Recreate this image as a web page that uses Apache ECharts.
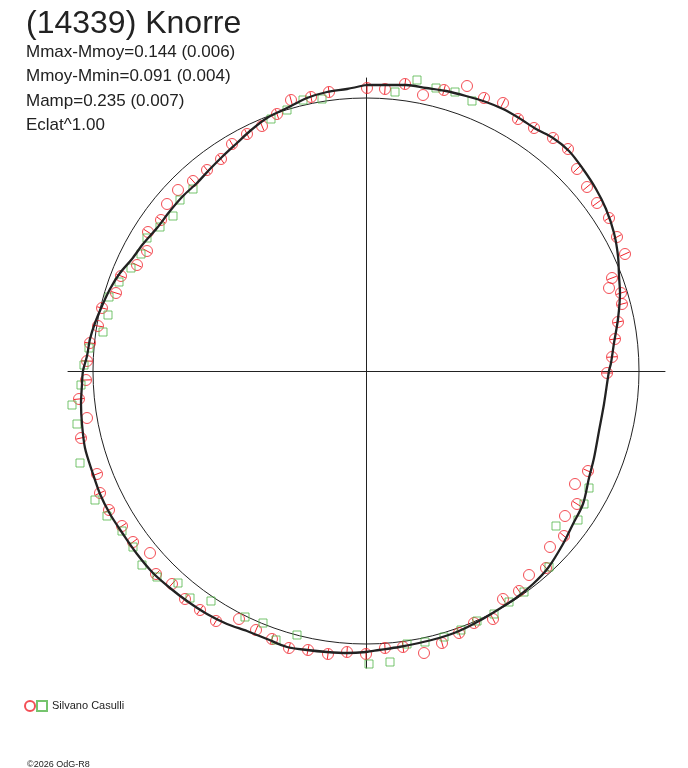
<!DOCTYPE html>
<html>
<head>
<meta charset="utf-8">
<title>(14339) Knorre</title>
<script src="https://cdn.jsdelivr.net/npm/echarts@6/dist/echarts.min.js"></script>
<style>
html, body { margin: 0; padding: 0; background: #fff; }
#main { width: 688px; height: 768px; }
</style>
</head>
<body>
<div id="main"></div>
<script>
// polar lightcurve, offsets from the plot centre (x right, y up)
var objectName = '(14339) Knorre';
var statLines = ['Mmax-Mmoy=0.144 (0.006)', 'Mmoy-Mmin=0.091 (0.004)', 'Mamp=0.235 (0.007)', 'Eclat^1.00'];
var observer = 'Silvano Casulli';
var copyright = '\u00a92026 OdG-R8';

// fitted curve, clockwise from the top
var fitCurve = [
  [0,286],[40,286],[60,283],[80,280],[100,275],[120,269],[137,262],[153,253],[170,242],[187,233],
  [203,220],[217,202],[230,182],[240,162],[248,138],[252,115],[253,95],[254,78],[252,52],[248,28],
  [245,8],[243,0],[238,-33],[233,-60],[228,-87],[223,-107],[217,-133],[207,-153],[197,-173],[182,-197],
  [167,-213],[150,-227],[133,-238],[113,-250],[93,-260],[73,-267],[53,-272],[33,-276],[13,-279],[0,-281],
  [-19,-282],[-39,-281],[-59,-279],[-79,-276],[-99,-268],[-119,-260],[-139,-253],[-159,-243],[-179,-230],[-196,-217],
  [-213,-202],[-229,-183],[-243,-163],[-256,-143],[-266,-123],[-274,-100],[-281,-77],[-284,-53],[-285,-33],[-284,-13],
  [-283,0],[-279,15],[-276,32],[-271,48],[-264,65],[-256,82],[-246,98],[-234,112],[-223,127],[-209,143],
  [-196,160],[-183,175],[-169,188],[-156,202],[-143,215],[-129,228],[-116,240],[-99,253],[-79,263],[-59,273],
  [-39,279],[-19,282],[0,286]
];

// session 1 (red circles): x, y, half error bar
var session1 = [
  [1,283,5],[19,282,5],[39,287,5],[57,276,0],[78,281,5],[101,285,0],[118,273,5],[137,268,5],[152,252,5],[168,243,5],
  [187,233,5],[202,222,5],[211,202,5],[221,184,5],[231,168,5],[243,153,5],[251,134,5],[259,117,5],[246,93,5],[243,83,0],
  [255,78,5],[256,67,5],[252,49,5],[249,32,5],[246,14,5],[241,-2,5],[222,-100,5],[209,-113,0],[211,-133,5],[199,-145,0],
  [198,-165,5],[184,-176,0],[180,-197,5],[163,-204,0],[153,-220,5],[137,-228,4],[127,-248,5],[108,-252,5],[93,-262,5],[76,-272,5],
  [58,-282,0],[37,-276,5],[19,-277,5],[0,-283,5],[-19,-281,5],[-38,-283,5],[-58,-279,5],[-77,-277,5],[-94,-268,5],[-110,-259,5],
  [-127,-248,0],[-150,-250,5],[-166,-239,5],[-181,-228,5],[-194,-213,5],[-210,-203,5],[-216,-182,0],[-233,-171,5],[-244,-155,5],[-257,-139,5],
  [-266,-122,5],[-269,-103,5],[-285,-67,5],[-279,-47,0],[-287,-28,5],[-280,-9,5],[-279,10,5],[-276,28,5],[-268,45,5],[-264,63,5],
  [-250,78,5],[-245,95,5],[-229,106,5],[-219,120,5],[-218,139,5],[-205,151,5],[-199,167,0],[-188,181,0],[-173,190,5],[-159,201,5],
  [-145,212,5],[-134,227,5],[-119,237,5],[-104,245,5],[-89,257,5],[-75,271,5],[-55,274,5],[-37,279,5]
];

// session 2 (green squares)
var session2 = [
  [51,291],[29,279],[70,283],[89,279],[106,270],[223,-117],[218,-133],[212,-149],[190,-155],[183,-196],
  [158,-221],[143,-231],[128,-243],[111,-250],[95,-259],[78,-266],[59,-271],[41,-273],[24,-291],[3,-293],
  [-285,-14],[-294,-34],[-289,-53],[-286,-92],[-271,-129],[-259,-145],[-244,-160],[-233,-176],[-224,-194],[-209,-206],
  [-188,-212],[-176,-227],[-155,-230],[-121,-246],[-103,-252],[-90,-269],[-69,-264],[-44,272],[-63,271],[-79,261],
  [-95,252],[-173,182],[-186,171],[-193,155],[-206,144],[-219,133],[-225,117],[-235,103],[-247,89],[-257,74],
  [-258,56],[-263,39],[-277,23],[-282,6]
];

var RED = '#f0222a';
var GREEN = '#52b548';
var INK = '#222';
var FONT = 'Liberation Sans, Arial';

var chart = echarts.init(document.getElementById('main'));

var hidden = { show: false };
var option = {
  backgroundColor: '#fff',
  animation: false,
  title: [
    { text: objectName, left: 21, top: 3,
      textStyle: { fontFamily: FONT, fontSize: 32, fontWeight: 'normal', color: INK } },
    { text: statLines.join('\n'), left: 21, top: 35,
      textStyle: { fontFamily: FONT, fontSize: 17, fontWeight: 'normal', color: INK, lineHeight: 24.4 } },
    { text: copyright, left: 22, top: 755,
      textStyle: { fontFamily: FONT, fontSize: 9, fontWeight: 'normal', color: INK, lineHeight: 10 } }
  ],
  legend: {
    left: 19, top: 695, itemWidth: 10, itemHeight: 10, itemGap: 0, selectedMode: false,
    data: [{ name: observer + ' 1', icon: 'circle' }, { name: observer, icon: 'rect' }],
    formatter: function (n) { return n === observer ? n : ''; },
    textStyle: { fontFamily: FONT, fontSize: 11, color: INK }
  },
  grid: { left: 68, top: 78, width: 597, height: 590 },
  xAxis: {
    type: 'value', min: -298, max: 299,
    axisLine: { show: true, onZero: true, lineStyle: { color: INK, width: 1 } },
    axisTick: hidden, axisLabel: hidden, splitLine: hidden
  },
  yAxis: {
    type: 'value', min: -297, max: 293,
    axisLine: { show: true, onZero: true, lineStyle: { color: INK, width: 1 } },
    axisTick: hidden, axisLabel: hidden, splitLine: hidden
  },
  // mean-magnitude reference circle
  polar: { center: [366, 371], radius: 273 },
  angleAxis: {
    type: 'value', min: 0, max: 360,
    axisLine: { show: true, lineStyle: { color: INK, width: 1 } },
    axisTick: hidden, axisLabel: hidden, splitLine: hidden
  },
  radiusAxis: { type: 'value', min: 0, max: 1, show: false },
  series: [
    {
      name: observer + ' 1', type: 'scatter', data: session1.map(function (p) { return [p[0], p[1]]; }),
      symbol: 'circle', symbolSize: 11,
      itemStyle: { color: 'rgba(0,0,0,0)', borderColor: RED, borderWidth: 1 }
    },
    {
      name: 'bars', type: 'custom', data: session1.filter(function (p) { return p[2] > 0; }),
      renderItem: function (params, api) {
        var x = api.value(0), y = api.value(1), e = api.value(2);
        var r = Math.sqrt(x * x + y * y);
        var a = api.coord([x * (1 - e / r), y * (1 - e / r)]);
        var b = api.coord([x * (1 + e / r), y * (1 + e / r)]);
        return { type: 'line', shape: { x1: a[0], y1: a[1], x2: b[0], y2: b[1] },
                 style: { stroke: RED, lineWidth: 1 } };
      },
      silent: true
    },
    {
      name: observer, type: 'scatter', data: session2,
      symbol: 'rect', symbolSize: 8,
      itemStyle: { color: 'rgba(0,0,0,0)', borderColor: GREEN, borderWidth: 1 }
    },
    {
      name: 'fit', type: 'line', data: fitCurve, smooth: 0.3, showSymbol: false,
      lineStyle: { color: INK, width: 2.3 }, z: 5
    }
  ]
};
chart.setOption(option);
</script>
</body>
</html>
